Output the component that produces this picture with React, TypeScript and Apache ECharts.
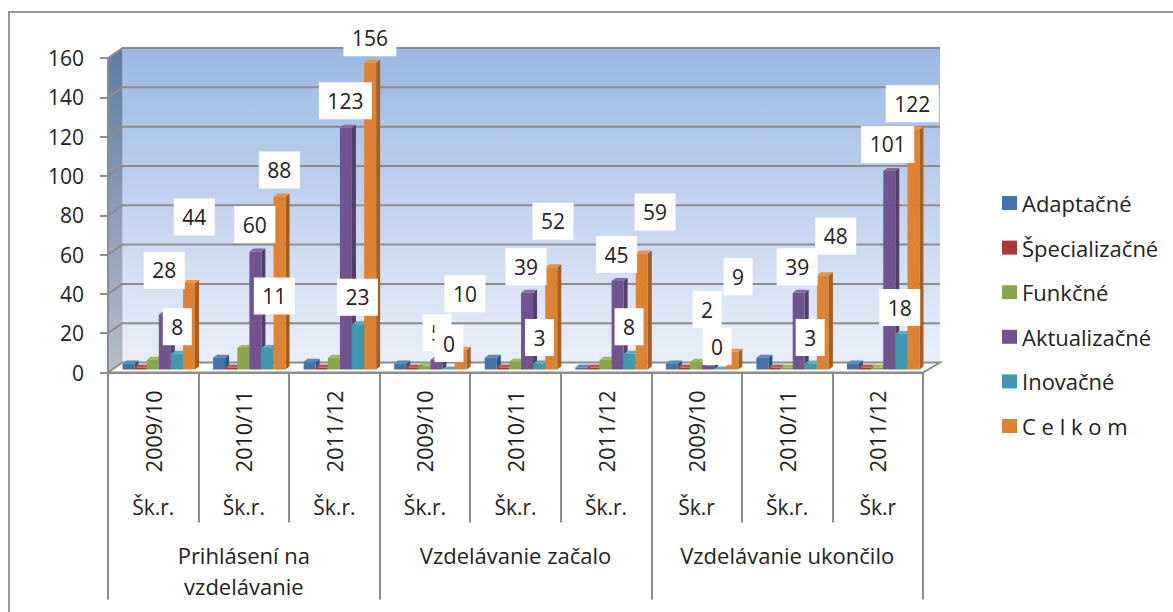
import React, { useEffect, useRef } from "react";
import * as echarts from "echarts";

const years = ["2009/10", "2010/11", "2011/12", "2009/10", "2010/11", "2011/12", "2009/10", "2010/11", "2011/12"];
const schoolYearPrefix = ["Šk.r.", "Šk.r.", "Šk.r.", "Šk.r.", "Šk.r.", "Šk.r.", "Šk.r", "Šk.r.", "Šk.r"];
const groups = ["Prihlásení na\nvzdelávanie", "Vzdelávanie začalo", "Vzdelávanie ukončilo"];
const yTicks = [0, 20, 40, 60, 80, 100, 120, 140, 160];

const adaptacne = [3, 6, 4, 3, 6, 1, 3, 6, 3];
const specializacne = [1, 1, 1, 1, 1, 1, 1, 1, 1];
const funkcne = [5, 11, 6, 2, 4, 5, 4, 1, 1];
const aktualizacne = [28, 60, 123, 5, 39, 45, 2, 39, 101];
const inovacne = [8, 11, 23, 0, 3, 8, 0, 3, 18];
const celkom = [44, 88, 156, 10, 52, 59, 9, 48, 122];

// label placement, relative to the band centre and the value's height (dx, dy per category)
const aktOffsets = [[11, -47], [11, -30], [11, -30], [12, -30], [10.5, -29], [10.5, -29.5], [10.5, -59], [10, -29], [10, -29.5]];
const inoOffsets = [[24, -30], [30.5, -55], [23, -30], [24, -29], [24, -29], [23, -30], [20.5, -26], [23, -29], [22, -29.5]];
const celOffsets = [[41, -69], [35.5, -29.5], [35.5, -28], [40, -59], [37.5, -49], [49, -44.5], [41.5, -78], [48.5, -42], [34.5, -29]];

const FONT = "'Open Sans', sans-serif";
const FS = 21;
const FS_TEXT = 22;
const TEXT = "#222222";
const AXIS = "#8c8c8c";
const BAR_W = 12;
const STEP = 12.1;
const DEPTH_X = 4;
const DEPTH_Y = 3;
const BASE_LIFT = 3;
const WALL_X = 14.5;
const WALL_Y = 10;

const seriesDefs = [
  { name: "Adaptačné", data: adaptacne, front: "#4372a8", side: "#2f5480", top: "#5a86b8" },
  { name: "Špecializačné", data: specializacne, front: "#a83a38", side: "#7c2a28", top: "#b95552" },
  { name: "Funkčné", data: funkcne, front: "#8aa64c", side: "#667c38", top: "#9db863" },
  { name: "Aktualizačné", data: aktualizacne, front: "#71548f", side: "#533d6b", top: "#846aa0" },
  { name: "Inovačné", data: inovacne, front: "#3f97b0", side: "#2d7085", top: "#5aa9c0" },
  { name: "C e l k o m", data: celkom, front: "#de8233", side: "#a65f22", top: "#e49550" },
];

function barSeries(def: any, s: number) {
  return {
    type: "custom",
    name: def.name,
    z: 3,
    itemStyle: { color: def.front },
    data: def.data.map((v: number, i: number) => [i, v]),
    renderItem: (_p: any, api: any) => {
      const [cx, y0] = api.coord([api.value(0), 0]);
      const [, y1] = api.coord([api.value(0), api.value(1)]);
      const x = cx + 5.5 + (s - 2.5) * STEP - BAR_W / 2;
      const b = y0 - BASE_LIFT;
      const t = y1 - BASE_LIFT;
      return {
        type: "group",
        children: [
          { type: "polygon", shape: { points: [[x + BAR_W, b], [x + BAR_W + DEPTH_X, b - DEPTH_Y], [x + BAR_W + DEPTH_X, t - DEPTH_Y], [x + BAR_W, t]] }, style: { fill: def.side } },
          { type: "polygon", shape: { points: [[x, t], [x + DEPTH_X, t - DEPTH_Y], [x + BAR_W + DEPTH_X, t - DEPTH_Y], [x + BAR_W, t]] }, style: { fill: def.top } },
          { type: "rect", shape: { x, y: t, width: BAR_W, height: b - t }, style: { fill: def.front } },
        ],
      };
    },
  };
}

function labelSeries(values: number[], offsets: number[][], id: string) {
  return {
    type: "custom",
    id,
    z: 10,
    silent: true,
    data: values.map((v, i) => [i, v]),
    renderItem: (_p: any, api: any) => {
      const i = api.value(0);
      const v = api.value(1);
      const [x, y] = api.coord([i, v]);
      return {
        type: "text",
        x: x + offsets[i][0],
        y: y + offsets[i][1],
        style: {
          text: String(v),
          fill: TEXT,
          font: `${FS}px ${FONT}`,
          align: "center",
          verticalAlign: "middle",
          backgroundColor: "#ffffff",
          padding: [8, 8.5],
          lineHeight: 21,
        },
      };
    },
  };
}

export default function App() {
  const ref = useRef<HTMLDivElement>(null);
  useEffect(() => {
    document.body.style.margin = "0";
    const chart = echarts.init(ref.current!, undefined, { renderer: "svg" });
    const wallSeries = {
      type: "custom",
      id: "walls",
      z: 0,
      silent: true,
      data: [[0, 0]],
      renderItem: (p: any, api: any) => {
        const c = p.coordSys;
        const [, y0] = api.coord([0, 0]);
        const [, yT] = api.coord([0, 160]);
        const xL = c.x;
        const xR = c.x + c.width;
        const bl = WALL_X;
        const br = 17;
        return {
          type: "group",
          children: [
            {
              type: "polygon",
              shape: { points: [[xL + bl, yT - WALL_Y], [xR + br, yT - WALL_Y], [xR + br, y0 - WALL_Y], [xL + bl, y0 - WALL_Y]] },
              style: {
                fill: new echarts.graphic.LinearGradient(0, 0, 0, 1, [
                  { offset: 0, color: "#9bb7e3" },
                  { offset: 1, color: "#e9eff9" },
                ]),
              },
            },
            {
              type: "polygon",
              shape: { points: [[xL, yT], [xL + bl, yT - WALL_Y], [xL + bl, y0 - WALL_Y], [xL, y0]] },
              style: {
                fill: new echarts.graphic.LinearGradient(0, 0, 0, 1, [
                  { offset: 0, color: "#607ba6" },
                  { offset: 1, color: "#b6bec9" },
                ]),
              },
            },
            {
              type: "polygon",
              shape: { points: [[xL, y0], [xL + bl, y0 - WALL_Y], [xR + br, y0 - WALL_Y], [xR, y0]] },
              style: { fill: "#ffffff", stroke: AXIS, lineWidth: 2 },
            },
          ],
        };
      },
    };
    const gridSeries = {
      type: "custom",
      id: "gridlines",
      z: 1,
      silent: true,
      data: yTicks.filter((v) => v > 0).map((v) => [0, v]),
      renderItem: (p: any, api: any) => {
        const c = p.coordSys;
        const [, y] = api.coord([0, api.value(1)]);
        return {
          type: "polyline",
          shape: { points: [[c.x, y], [c.x + WALL_X, y - WALL_Y], [c.x + c.width + 17, y - WALL_Y]] },
          style: { stroke: AXIS, lineWidth: 2, fill: "none" },
        };
      },
    };
    chart.setOption({
      animation: false,
      backgroundColor: "#ffffff",
      textStyle: { fontFamily: FONT },
      graphic: [
        {
          type: "rect",
          z: -1,
          shape: { x: 9, y: 12, width: 1200, height: 640 },
          style: { fill: "none", stroke: "#969696", lineWidth: 2 },
          silent: true,
        },
      ],
      grid: { left: 108, right: 250, top: 58, bottom: 239.5, outerBoundsMode: "none", containLabel: false },
      legend: {
        orient: "vertical",
        left: 997,
        top: 187,
        itemWidth: 15,
        itemHeight: 14,
        itemGap: 22.6,
        icon: "rect",
        data: seriesDefs.map((d) => d.name),
        textStyle: { fontFamily: FONT, fontSize: FS_TEXT, color: TEXT, lineHeight: 22 },
      },
      xAxis: [
        {
          type: "category",
          position: "bottom",
          data: years,
          z: 6,
          axisLine: { show: true, onZero: false, lineStyle: { color: AXIS, width: 2 } },
          axisTick: { show: true, alignWithLabel: false, interval: 0, length: 150, lineStyle: { color: AXIS, width: 2 } },
          axisLabel: { interval: 0, rotate: 90, margin: 18, fontFamily: FONT, fontSize: 21.5, color: TEXT },
        },
        {
          type: "category",
          position: "bottom",
          data: schoolYearPrefix,
          axisLine: { show: false },
          axisTick: { show: false },
          axisLabel: { interval: 0, margin: 124, fontFamily: FONT, fontSize: FS, color: TEXT },
        },
        {
          type: "category",
          position: "bottom",
          data: groups,
          z: 6,
          axisLine: { show: false },
          axisTick: { show: true, alignWithLabel: false, interval: 0, length: 227, lineStyle: { color: AXIS, width: 2 } },
          axisLabel: { interval: 0, margin: 167, fontFamily: FONT, fontSize: FS_TEXT, color: TEXT, lineHeight: 31 },
        },
      ],
      yAxis: {
        type: "value",
        min: 0,
        max: 160,
        interval: 20,
        axisLine: { show: true, lineStyle: { color: AXIS, width: 2 } },
        axisTick: { show: true, length: 8, lineStyle: { color: AXIS, width: 2 } },
        axisLabel: { margin: 24, fontFamily: FONT, fontSize: FS, color: TEXT },
        splitLine: { show: false },
      },
      series: [
        wallSeries,
        gridSeries,
        ...seriesDefs.map(barSeries),
        labelSeries(aktualizacne, aktOffsets, "lblAkt"),
        labelSeries(inovacne, inoOffsets, "lblIno"),
        labelSeries(celkom, celOffsets, "lblCel"),
      ],
    } as any);
    return () => chart.dispose();
  }, []);
  return <div ref={ref} style={{ position: "fixed", left: 0, top: 0, width: 1173, height: 612 }} />;
}
